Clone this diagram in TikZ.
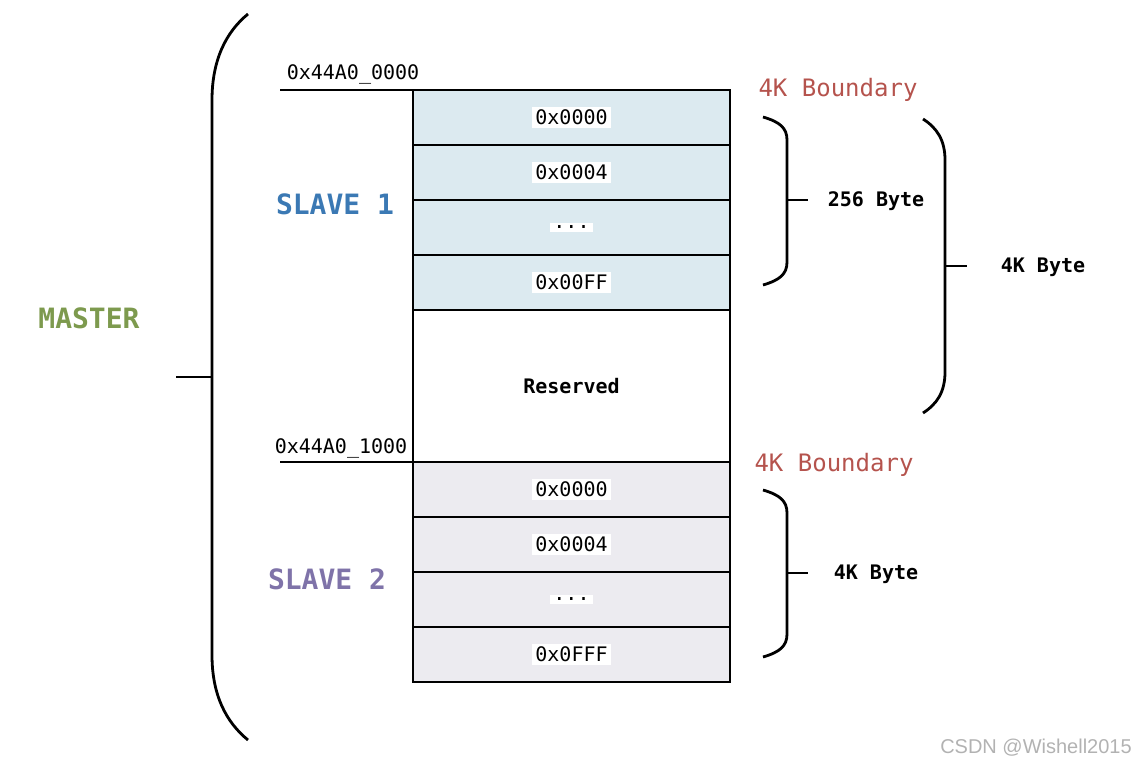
\documentclass[tikz,border=0pt]{standalone}
\usepackage{fontspec}
\setmainfont{DejaVu Sans}
\setmonofont{DejaVu Sans Mono}
\newfontfamily\wmfont{Liberation Sans}
\usetikzlibrary{positioning}
\definecolor{slaveonefill}{HTML}{DCEAF0}
\definecolor{slavetwofill}{HTML}{ECEBF0}
\definecolor{boundred}{HTML}{B5534D}
\definecolor{mastergreen}{HTML}{7D9A4E}
\definecolor{slaveblue}{HTML}{3B79B4}
\definecolor{slavepurple}{HTML}{7F73A9}
\newcommand{\addr}[1]{\colorbox{white}{#1}}

\tikzset{
  cell/.style={draw, line width=2.8pt, minimum width=317pt, minimum height=55pt,
    inner sep=0pt, outer sep=0pt, font=\ttfamily\fontsize{20}{24}\selectfont},
  slaveone/.style={cell, fill=slaveonefill},
  slavetwo/.style={cell, fill=slavetwofill},
  hexlabel/.style={font=\ttfamily\fontsize{20}{24}\selectfont},
  boundary/.style={text=boundred, font=\ttfamily\fontsize{24}{28}\selectfont},
  sizelabel/.style={font=\ttfamily\bfseries\fontsize{20}{24}\selectfont},
  biglabel/.style={font=\ttfamily\bfseries\fontsize{28}{32}\selectfont},
  bracket/.style={line width=2.8pt},
}

\begin{document}
\begin{tikzpicture}[x=1pt,y=-1pt,node distance=0pt]
   \useasboundingbox (0,0) rectangle (1141,769);
   % slave 1 registers
   \node[slaveone] (s1a) at (571.5,117.5) {\addr{0x0000}};
   \node[slaveone] (s1b) [below=of s1a] {\addr{0x0004}};
   \node[slaveone] (s1c) [below=of s1b] {\addr{...}};
   \node[slaveone] (s1d) [below=of s1c] {\addr{0x00FF}};
   \node[cell, minimum height=152pt, font=\ttfamily\bfseries\fontsize{20}{24}\selectfont]
      (res) [below=of s1d] {Reserved};
   % slave 2 registers
   \node[slavetwo] (s2a) [below=of res] {\addr{0x0000}};
   \node[slavetwo] (s2b) [below=of s2a] {\addr{0x0004}};
   \node[slavetwo] (s2c) [below=of s2b] {\addr{...}};
   \node[slavetwo] (s2d) [below=of s2c] {\addr{0x0FFF}};

   % base addresses
   \coordinate (base1) at (280,90);
   \coordinate (base2) at (280,462);
   \draw[line width=2.8pt] (base1) -- (s1a.north west);
   \draw[line width=2.8pt] (base2) -- (s2a.north west);
   \node[hexlabel] (addr1) at (353,74) {0x44A0\_0000};
   \node[hexlabel] (addr2) at (341,448) {0x44A0\_1000};
   \node[boundary] (bound1) at (838,90) {4K Boundary};
   \node[boundary] (bound2) at (834,465) {4K Boundary};

   % names
   \node[biglabel, text=mastergreen] (master) at (89,318) {MASTER};
   \node[biglabel, text=slaveblue] (slave1) at (335,204) {SLAVE 1};
   \node[biglabel, text=slavepurple] (slave2) at (327,579) {SLAVE 2};

   % brackets
   \draw[bracket] (248,14) .. controls (226,32) and (212,60) .. (212,100)
      -- (212,655) .. controls (212,695) and (226,722) .. (248,740);
   \draw[bracket] (212,377) -- (176,377);
   \draw[bracket] (763,117) .. controls (780,122) and (787,128) .. (787,140)
      -- (787,262) .. controls (787,274) and (780,280) .. (763,285);
   \draw[bracket] (787,200) -- (808,200);
   \draw[bracket] (923,119) .. controls (937,128) and (945,140) .. (945,160)
      -- (945,372) .. controls (945,392) and (937,404) .. (923,413);
   \draw[bracket] (945,266) -- (967,266);
   \draw[bracket] (763,490) .. controls (780,495) and (787,501) .. (787,513)
      -- (787,634) .. controls (787,646) and (780,652) .. (763,657);
   \draw[bracket] (787,573) -- (808,573);
   \node[sizelabel] (size1) at (876,201) {256 Byte};
   \node[sizelabel] (size2) at (1043,267) {4K Byte};
   \node[sizelabel] (size3) at (876,574) {4K Byte};

   \node[text=black!30, font=\wmfont\fontsize{20}{22}\selectfont] (mark) at (1036,748) {CSDN @Wishell2015};
\end{tikzpicture}
\end{document}
